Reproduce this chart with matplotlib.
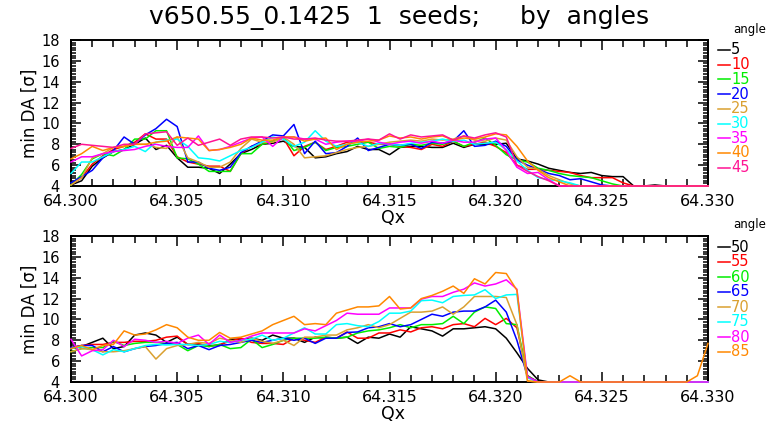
import numpy as np
import matplotlib
matplotlib.use("Agg")
import matplotlib.pyplot as plt
from matplotlib.lines import Line2D
from matplotlib.ticker import MultipleLocator, FormatStrFormatter

plt.rcParams['font.family'] = ['DejaVu Sans']

title = "v650.55_0.1425  1  seeds;     by  angles"
qx = np.round(64.300 + 0.0005 * np.arange(61), 4)

angles_top = ["5", "10", "15", "20", "25", "30", "35", "40", "45"]
colors_top = ["#000000", "#ff0000", "#00ee00", "#0000ff", "#daa030", "#00ffff", "#ff00ff", "#ff8800", "#ff1493"]
angles_bot = ["50", "55", "60", "65", "70", "75", "80", "85"]
colors_bot = ["#000000", "#ff0000", "#00ee00", "#0000ff", "#daa030", "#00ffff", "#ff00ff", "#ff8800"]

tail = lambda n: [4.0] * n

# top panel (angles 5..45), 61 points each
a5 = [4.1, 4.5, 5.9, 6.7, 7.3, 7.5, 8.0, 8.6, 7.5, 7.9, 6.7, 5.8, 5.8, 5.7, 5.2, 6.1, 7.1, 7.5, 8.0, 8.1,
      8.3, 7.8, 7.7, 6.7, 6.8, 7.1, 7.3, 7.8, 7.5, 7.5, 7.0, 7.7, 7.8, 7.8, 7.7, 7.7, 8.1, 7.7, 8.0, 8.0,
      8.0, 8.1, 6.6, 6.4, 6.1, 5.7, 5.5, 5.3, 5.2, 5.3, 5.0, 4.9, 4.9, 4.0, 4.0, 4.1, 4.0, 4.0, 4.0, 4.0, 4.0]
a10 = [4.1, 4.8, 6.1, 6.9, 7.5, 7.8, 8.2, 9.0, 8.5, 8.5, 6.8, 6.3, 6.1, 5.9, 5.9, 5.4, 7.1, 7.8, 8.0, 8.3,
       8.6, 6.9, 7.8, 8.2, 7.5, 7.8, 8.2, 8.3, 8.2, 8.0, 8.0, 7.8, 7.7, 7.5, 8.0, 7.8, 8.3, 7.8, 8.0, 8.2,
       7.8, 7.2, 6.0, 5.6, 5.6, 5.5, 5.4, 5.3, 5.0, 4.8, 4.8, 4.8, 4.3] + tail(8)
a15 = [4.1, 5.1, 6.6, 7.1, 6.9, 7.5, 8.5, 8.5, 9.3, 9.3, 6.7, 6.6, 6.1, 5.4, 5.4, 5.4, 7.1, 7.1, 8.0, 8.3,
       8.7, 7.4, 7.7, 8.2, 7.4, 7.7, 7.8, 8.0, 8.2, 7.6, 7.8, 7.7, 8.0, 7.9, 8.1, 8.0, 8.3, 7.8, 8.2, 8.6,
       7.9, 7.0, 6.5, 6.3, 5.7, 5.5, 5.2, 5.0, 4.9, 4.8, 4.5, 4.2] + tail(9)
a20 = [4.3, 4.9, 5.5, 6.7, 7.4, 8.7, 8.0, 8.9, 9.5, 10.4, 9.7, 6.3, 6.3, 5.7, 5.5, 5.8, 7.2, 7.8, 8.3, 8.9,
       8.8, 9.9, 7.1, 8.3, 7.1, 7.2, 7.8, 8.6, 7.4, 7.7, 8.0, 7.9, 8.0, 7.6, 8.2, 8.1, 8.3, 9.3, 7.8, 7.9,
       8.3, 7.8, 6.5, 6.0, 5.6, 5.2, 5.0, 4.6, 4.7, 4.4, 4.1] + tail(10)
a25 = [4.1, 4.8, 6.7, 7.1, 7.7, 7.8, 8.0, 8.0, 7.7, 7.6, 8.7, 6.7, 6.3, 5.8, 5.8, 6.3, 7.6, 8.5, 8.2, 8.2,
       8.7, 8.0, 6.7, 6.8, 6.9, 7.2, 7.5, 7.7, 7.8, 8.0, 8.2, 8.3, 8.4, 8.3, 8.5, 8.4, 8.5, 8.8, 8.4, 8.3,
       8.6, 8.4, 6.8, 5.8, 5.6, 5.0, 4.6, 4.2] + tail(13)
a30 = [5.2, 6.3, 6.3, 6.8, 7.3, 7.5, 7.8, 7.3, 8.2, 8.4, 8.5, 7.8, 6.7, 6.6, 6.4, 6.9, 7.4, 7.7, 8.2, 8.7,
       8.5, 7.8, 8.2, 9.3, 8.3, 7.8, 8.0, 8.2, 7.8, 8.1, 8.0, 7.9, 8.1, 8.2, 8.3, 8.5, 8.3, 8.4, 8.0, 8.1,
       8.2, 7.5, 6.4, 5.5, 4.8, 4.6, 4.5, 4.3] + tail(13)
a35 = [6.3, 6.8, 6.8, 7.1, 7.3, 7.4, 7.5, 7.8, 8.0, 7.8, 7.7, 7.7, 8.8, 7.4, 7.5, 7.8, 8.2, 8.6, 8.7, 7.8,
       8.7, 8.7, 8.5, 8.5, 8.0, 8.2, 8.3, 8.3, 8.5, 8.2, 8.0, 8.2, 8.3, 8.1, 8.3, 8.1, 8.4, 8.2, 8.2, 8.5,
       8.6, 7.4, 5.8, 5.2, 5.3, 4.6] + tail(15)
a40 = [6.6, 7.1, 7.8, 7.4, 7.7, 7.8, 8.0, 8.0, 8.2, 8.3, 8.7, 8.6, 8.5, 7.4, 7.5, 7.7, 8.0, 8.6, 8.4, 8.4,
       8.7, 8.7, 8.3, 8.5, 8.6, 7.5, 8.0, 8.2, 8.3, 8.4, 8.8, 8.6, 8.7, 8.5, 8.7, 8.8, 8.4, 8.6, 8.5, 8.7,
       9.0, 8.9, 7.8, 6.4, 5.5, 4.8, 4.4] + tail(14)
a45 = [7.6, 8.0, 7.9, 7.8, 7.7, 8.0, 8.0, 9.0, 9.1, 9.2, 7.9, 8.6, 7.9, 8.2, 8.5, 7.9, 8.5, 8.7, 8.7, 8.6,
       8.7, 8.5, 8.5, 8.6, 8.4, 8.3, 8.3, 8.4, 8.5, 8.4, 9.0, 8.5, 8.9, 8.7, 8.8, 8.9, 8.4, 8.8, 8.6, 8.9,
       9.1, 8.7, 6.0, 5.4, 4.9, 4.5] + tail(15)

# bottom panel (angles 50..85)
a50 = [7.2, 7.4, 7.8, 8.2, 7.2, 7.4, 8.5, 8.7, 8.5, 7.8, 8.3, 7.6, 7.6, 7.5, 7.5, 8.1, 8.1, 8.2, 8.0, 8.5,
       8.2, 8.2, 7.8, 8.3, 8.2, 8.2, 8.3, 7.7, 8.3, 8.2, 8.6, 8.3, 9.3, 9.1, 8.9, 8.4, 9.1, 9.1, 9.2, 9.3,
       9.1, 8.2, 6.8, 5.3, 4.2] + tail(16)
a55 = [7.3, 7.5, 7.6, 7.6, 7.8, 7.8, 7.9, 7.9, 8.0, 8.3, 8.4, 7.6, 7.7, 7.4, 7.6, 7.9, 8.2, 7.8, 7.7, 7.7,
       7.6, 8.2, 8.0, 7.8, 8.3, 8.2, 8.8, 8.2, 8.2, 8.7, 8.7, 9.0, 8.8, 9.2, 9.3, 9.1, 9.5, 9.6, 9.3, 10.1,
       9.5, 10.1, 9.2, 4.6] + tail(17)
a60 = [6.9, 7.2, 7.3, 7.3, 7.9, 7.5, 7.7, 7.8, 7.8, 7.7, 7.6, 7.0, 7.5, 7.4, 7.6, 7.2, 7.3, 8.1, 7.3, 7.6,
       8.0, 8.2, 8.2, 8.2, 8.3, 8.2, 8.3, 8.7, 8.9, 9.0, 9.2, 9.5, 9.2, 9.5, 9.5, 9.6, 10.3, 9.6, 10.7, 11.2,
       11.05, 9.6, 9.5, 4.6] + tail(17)
a65 = [7.3, 7.5, 7.5, 6.9, 7.4, 6.9, 7.2, 7.4, 7.5, 7.7, 7.8, 7.2, 7.5, 7.1, 7.5, 7.6, 7.8, 8.0, 7.8, 8.0,
       8.2, 8.0, 8.2, 7.7, 8.2, 8.2, 8.75, 8.8, 9.2, 9.3, 9.6, 9.3, 9.5, 10.0, 10.5, 10.3, 10.7, 10.8, 10.8, 11.2,
       11.85, 10.7, 8.0, 4.5] + tail(17)
a70 = [6.9, 7.2, 7.1, 6.9, 6.9, 7.0, 7.2, 7.4, 6.2, 7.2, 7.5, 7.6, 7.8, 7.7, 8.2, 8.0, 7.8, 8.2, 7.9, 7.7,
       8.0, 7.5, 8.3, 8.3, 8.5, 8.5, 9.0, 9.2, 9.5, 9.2, 9.5, 10.1, 10.7, 10.7, 10.8, 11.2, 10.5, 11.2, 12.2, 12.2,
       12.2, 12.1, 9.5, 4.1] + tail(17)
a75 = [7.2, 7.4, 7.1, 6.6, 7.1, 6.9, 7.2, 7.5, 7.6, 7.55, 7.6, 7.6, 7.5, 7.6, 7.9, 7.8, 8.0, 8.1, 8.5, 8.0,
       8.2, 8.7, 9.2, 8.6, 8.6, 9.5, 9.6, 9.4, 9.3, 9.8, 10.6, 10.6, 10.8, 11.8, 11.85, 11.6, 12.2, 12.3, 12.35, 12.85,
       12.0, 12.35, 12.4, 4.4] + tail(17)
a80 = [8.1, 6.5, 7.0, 7.1, 8.0, 7.4, 8.1, 8.0, 7.8, 7.9, 7.7, 8.2, 8.5, 7.6, 8.5, 7.8, 8.0, 8.4, 8.7, 8.7,
       8.7, 8.7, 9.1, 8.9, 9.4, 9.9, 10.6, 10.5, 10.5, 10.5, 11.1, 11.1, 11.1, 11.95, 12.2, 12.2, 12.6, 12.9, 13.5, 13.2,
       13.4, 13.8, 12.9, 4.5] + tail(17)
a85 = [7.2, 7.5, 7.1, 7.5, 7.6, 8.9, 8.5, 8.6, 9.0, 9.5, 9.2, 8.3, 8.0, 8.0, 8.75, 8.2, 8.3, 8.6, 8.9, 9.5,
       9.9, 10.3, 9.5, 9.6, 9.5, 10.6, 10.9, 11.2, 11.2, 11.3, 12.2, 11.0, 11.1, 12.0, 12.3, 12.7, 13.2, 12.5, 13.9, 13.4,
       14.5, 14.4, 12.8, 4.1, 4.0, 4.0, 4.0, 4.6, 4.0, 4.0, 4.0, 4.0, 4.0, 4.0, 4.0, 4.0, 4.0, 4.0, 4.0, 4.6, 7.7]

top_series = [a5, a10, a15, a20, a25, a30, a35, a40, a45]
bot_series = [a50, a55, a60, a65, a70, a75, a80, a85]

W, H = 767, 426
fig = plt.figure(figsize=(W / 100, H / 100), dpi=100)

def fx(px):
    return px / W

def fy(py):
    return 1 - py / H

ax_left, ax_right = 71, 708
panels = [(40, 186, top_series, colors_top, angles_top, 50, 14.7),
          (236, 382, bot_series, colors_bot, angles_bot, 247, 15.0)]

for (ytop, ybot, series, cols, labs, leg0, legstep) in panels:
    ax = fig.add_axes([fx(ax_left), fy(ybot), fx(ax_right - ax_left), (ybot - ytop) / H])
    for s, c in zip(series, cols):
        ax.plot(qx, s, color=c, lw=1.1, clip_on=False, zorder=3)
    ax.set_xlim(64.300, 64.330)
    ax.set_ylim(4, 18)
    ax.xaxis.set_major_locator(MultipleLocator(0.005))
    ax.xaxis.set_minor_locator(MultipleLocator(0.001))
    ax.xaxis.set_major_formatter(FormatStrFormatter('%.3f'))
    ax.yaxis.set_major_locator(MultipleLocator(2))
    ax.yaxis.set_minor_locator(MultipleLocator(0.25))
    ax.tick_params(which='both', direction='in', top=True, right=True, width=1.1, colors='black')
    ax.tick_params(axis='x', which='major', length=7.5, labelsize=11.5, pad=6)
    ax.tick_params(axis='x', which='minor', length=5)
    ax.tick_params(axis='y', which='major', length=7, labelsize=10.5, pad=8)
    ax.tick_params(axis='y', which='minor', length=3.5)
    for sp in ax.spines.values():
        sp.set_linewidth(1.4)
    fig.text(fx(30), fy((ytop + ybot) / 2), "min DA [σ]", rotation=90,
             ha='center', va='center', fontsize=12)
    fig.text(fx(393), fy(ybot + 32), "Qx", ha='center', va='center', fontsize=12.5)
    # legend
    fig.text(fx(750), fy(ytop - 11), "angle", ha='center', va='center', fontsize=8.5)
    for k, (c, lab) in enumerate(zip(cols, labs)):
        yy = fy(leg0 + legstep * k)
        fig.add_artist(Line2D([fx(718), fx(730)], [yy, yy], color=c, lw=1.1))
        fig.text(fx(731), yy, lab, color=c, ha='left', va='center', fontsize=10.5)

fig.text(fx(399), fy(17), title, ha='center', va='center', fontsize=18)

fig.savefig("out.png", dpi=100)
